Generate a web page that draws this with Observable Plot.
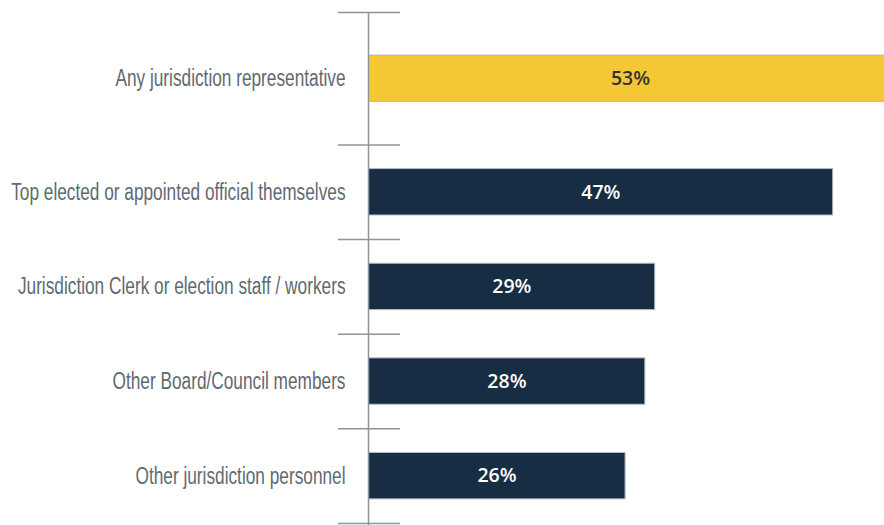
<!DOCTYPE html>
<html>
<head>
<meta charset="utf-8">
<script src="https://cdn.jsdelivr.net/npm/d3@7"></script>
<script src="https://cdn.jsdelivr.net/npm/@observablehq/plot@0.6"></script>
<style>
  html, body { margin: 0; padding: 0; background: #fff; overflow: hidden; }
  #chart svg { display: block; }
</style>
</head>
<body>
<div id="chart"></div>
<script>
const categories = [
  "Any jurisdiction representative",
  "Top elected or appointed official themselves",
  "Jurisdiction Clerk or election staff / workers",
  "Other Board/Council members",
  "Other jurisdiction personnel"
];
const values = [53, 47, 29, 28, 26];
const highlight = [true, false, false, false, false];

// layout: first (summary) row gets a taller band than the others
const firstBand = 1.4;
const barH = 0.49;
const rows = categories.map((c, i) => {
  const start = i === 0 ? 0 : firstBand + (i - 1);
  const end = i === 0 ? firstBand : start + 1;
  const mid = (start + end) / 2;
  return {category: c, value: values[i], hi: highlight[i], start, end, mid,
          y1: mid - barH / 2, y2: mid + barH / 2};
});
const bounds = [0, ...rows.map(r => r.end)];
const yMax = bounds[bounds.length - 1];

const axisColor = "#8c959b";
const chart = Plot.plot({
  width: 884,
  height: 525,
  marginLeft: 368,
  marginRight: 0,
  marginTop: 12,
  marginBottom: 2,
  x: {domain: [0, 53], range: [368, 892], axis: null},
  y: {domain: [0, yMax], reverse: true, axis: null},
  style: {background: "#fff"},
  marks: [
    Plot.rectX(rows, {
      x1: 0, x2: "value", y1: "y1", y2: "y2",
      fill: d => d.hi ? "#F4C834" : "#162D44",
      stroke: "#b4b9c1", strokeWidth: 1, clip: "frame"
    }),
    Plot.ruleY(bounds, {x1: 0, x2: 0, insetLeft: -30, insetRight: -32, stroke: axisColor, strokeWidth: 1.5}),
    Plot.ruleX([0], {y1: 0, y2: yMax, insetBottom: -3, stroke: axisColor, strokeWidth: 1.5}),
    Plot.text(rows, {
      x: 0, y: "mid", text: "category", textAnchor: "end", dx: -23,
      fill: "#5f6a71", fontSize: 23, className: "cat-label",
      fontFamily: "'Liberation Sans', Arial, sans-serif"
    }),
    Plot.text(rows, {
      x: d => d.value / 2, y: "mid", text: d => d.value + "%",
      fill: d => d.hi ? "#333333" : "#ffffff", fontSize: 19.5, fontWeight: 600,
      fontFamily: "'Open Sans', 'Noto Sans', sans-serif"
    })
  ]
});
document.getElementById("chart").appendChild(chart);

// condense category labels (reference uses a condensed face)
const condense = 0.75;
d3.select(chart).selectAll(".cat-label text").each(function() {
  const w = this.getComputedTextLength();
  this.setAttribute("textLength", (w * condense).toFixed(1));
  this.setAttribute("lengthAdjust", "spacingAndGlyphs");
});
</script>
</body>
</html>
